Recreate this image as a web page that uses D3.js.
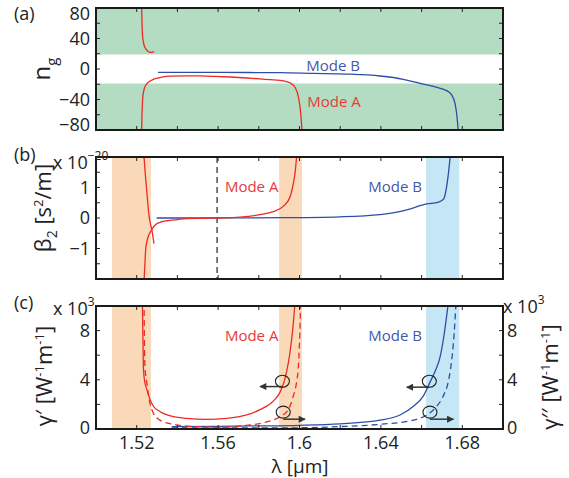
<!DOCTYPE html>
<html><head><meta charset="utf-8">
<script src="https://cdn.jsdelivr.net/npm/d3@7"></script>
<style>
body{margin:0;background:#fff;}
svg{display:block;font-family:"Open Sans",sans-serif;}
</style></head>
<body><svg id="c" width="569" height="478"></svg>
<script>
// ---------- data ----------
const xDomain = [1.50, 1.70];
const xTicksMajor = [1.52, 1.56, 1.60, 1.64, 1.68];
const xTickLabels = ["1.52", "1.56", "1.6", "1.64", "1.68"];

// panel (a): group index n_g
const ngBand = 19;
const ngTicks = [80, 40, 0, -40, -80];
const aRedUpLam = [1.5224, 1.5226, 1.5228, 1.5232, 1.5236, 1.5242, 1.5249, 1.5257, 1.5265, 1.5275, 1.5286];
const aRedUpNg  = [84, 62, 47, 37, 31.5, 27.5, 24.9, 23, 21.9, 21.7, 22.7];
const aRedLoLam = [1.5224, 1.5226, 1.5229, 1.5233, 1.5237, 1.5245, 1.5257, 1.5275, 1.5298, 1.533, 1.5364, 1.545, 1.551, 1.558, 1.566, 1.574, 1.5806, 1.5855, 1.5904, 1.5935, 1.5953, 1.5978, 1.5994, 1.6006, 1.6013];
const aRedLoNg  = [-84, -60, -40.7, -31, -26, -21, -17.5, -14.5, -12.2, -10.2, -9.4, -9.0, -9.1, -9.6, -10.5, -11.8, -13, -14, -15, -16.5, -18, -24, -36, -58, -84];
const aBlueLam  = [1.5305, 1.545, 1.56, 1.575, 1.5904, 1.6068, 1.6232, 1.6396, 1.651, 1.6592, 1.6674, 1.6723, 1.6748, 1.6764, 1.6772, 1.6781];
const aBlueNg   = [-4.3, -4.4, -4.5, -4.6, -4.8, -5.7, -6.6, -9.2, -13.5, -18.8, -24, -28.4, -34, -45, -58, -84];

// panel (b): beta2 (x 1e-20 s^2/m)
const bTicks = [1, 0, -1];
const bDashLam = 1.5595;
const bRed1Lam = [1.5235, 1.5242, 1.5249, 1.5255, 1.5260, 1.5267, 1.5274, 1.5285];
const bRed1Val = [2.1, 1.45, 0.92, 0.45, 0.1, -0.17, -0.38, -0.84];
const bRed2Lam = [1.5236, 1.5240, 1.5244, 1.5250, 1.5257, 1.5266, 1.5274, 1.5285, 1.5298, 1.5320, 1.5347, 1.540, 1.5446, 1.552, 1.5595, 1.5708, 1.5806, 1.5871, 1.592, 1.5953, 1.5970, 1.5978, 1.5987];
const bRed2Val = [-2.1, -1.55, -1.04, -0.78, -0.6, -0.47, -0.38, -0.27, -0.19, -0.13, -0.09, -0.05, -0.02, -0.01, 0, 0.03, 0.11, 0.21, 0.38, 0.68, 1.14, 1.47, 2.1];
const bBlueLam = [1.5298, 1.55, 1.5904, 1.62, 1.6396, 1.6527, 1.6625, 1.6683, 1.6708, 1.6723, 1.6732, 1.6741];
const bBlueVal = [0, 0, 0.01, 0.04, 0.11, 0.27, 0.46, 0.52, 0.62, 1.03, 1.47, 2.05];

// panel (c): gamma' (solid) and gamma'' (dashed), x 1e3 W^-1 m^-1
const cTicks = [8, 4, 0];
const cRedSLam = [1.5228, 1.5230, 1.5232, 1.5233, 1.5238, 1.5249, 1.5265, 1.5282, 1.5314, 1.538, 1.5446, 1.5544, 1.5642, 1.574, 1.5806, 1.5871, 1.5904, 1.5924, 1.5937, 1.5953, 1.5968, 1.5979];
const cRedSVal = [10.5, 8, 6, 5, 4.0, 3.26, 2.42, 1.85, 1.42, 1.0, 0.86, 0.78, 0.86, 1.14, 1.57, 2.27, 2.98, 3.83, 4.68, 6.2, 8.3, 10.5];
const cRedDLam = [1.5236, 1.5238, 1.5241, 1.5249, 1.5265, 1.5282, 1.5314, 1.538, 1.5446, 1.561, 1.574, 1.5839, 1.5904, 1.5945, 1.597, 1.5986, 1.5994, 1.6000, 1.6006];
const cRedDVal = [10.5, 7, 4.96, 3.83, 2.1, 1.29, 0.72, 0.38, 0.24, 0.15, 0.3, 0.58, 1.0, 1.57, 2.7, 3.83, 4.96, 7, 10.5];
const cBlueSLam = [1.5372, 1.56, 1.58, 1.60, 1.62, 1.6396, 1.6494, 1.656, 1.6609, 1.6642, 1.6666, 1.669, 1.671, 1.6733];
const cBlueSVal = [0.2, 0.22, 0.25, 0.3, 0.42, 0.72, 1.14, 1.85, 2.7, 3.83, 4.68, 5.8, 7.6, 10.5];
const cBlueDLam = [1.5372, 1.58, 1.60, 1.62, 1.6396, 1.6559, 1.6625, 1.6674, 1.6707, 1.6731, 1.6743, 1.6752, 1.6760, 1.6770];
const cBlueDVal = [0.08, 0.09, 0.1, 0.2, 0.38, 0.72, 1.14, 1.85, 2.7, 3.83, 4.96, 6.2, 7.8, 10.5];

// shaded wavelength windows
const orangeBands = [[1.5079, 1.527], [1.590, 1.6012]];
const blueBands = [[1.6622, 1.6785]];

// circle/arrow markers: [lambda, value, arrow-end lambda, arrow value]
const markers = [
  [1.5916, 3.88, 1.5806, 3.45],
  [1.5920, 1.37, 1.6027, 0.80],
  [1.6638, 3.88, 1.6527, 3.40],
  [1.6641, 1.37, 1.6756, 0.80]
];

// ---------- drawing ----------
const svg = d3.select("#c");
const RED = "#ec2a24", BLUE = "#2c4ea6", RED_T = "#e8393a", BLUE_T = "#4658a8";
const GREEN = "#b4dcc3", ORANGE = "#fad9b9", LBLUE = "#c4e6f5";
const L = 96, R = 503;
const x = d3.scaleLinear().domain(xDomain).range([L, R]);

const panels = [
  {id: "a", top: 8, bot: 130, dom: [-80, 80], minor: 20},
  {id: "b", top: 157, bot: 279, dom: [-2, 2], minor: 0.5},
  {id: "c", top: 306, bot: 429, dom: [0, 10], minor: 2}
];
panels.forEach(p => p.y = d3.scaleLinear().domain(p.dom).range([p.bot, p.top]));
const [pa, pb, pc] = panels;

const defs = svg.append("defs");
panels.forEach(p => {
  defs.append("clipPath").attr("id", "clip" + p.id).append("rect")
    .attr("x", L).attr("y", p.top).attr("width", R - L).attr("height", p.bot - p.top);
});
defs.append("marker").attr("id", "ah").attr("viewBox", "0 0 10 10").attr("refX", 9).attr("refY", 5)
  .attr("markerWidth", 9).attr("markerHeight", 7).attr("markerUnits", "userSpaceOnUse").attr("orient", "auto")
  .append("path").attr("d", "M0,0 L10,5 L0,10 z").attr("fill", "#333");

function mkLine(p) {
  return d3.line().x(d => x(d[0])).y(d => p.y(d[1])).curve(d3.curveMonotoneX);
}
function zip(a, b) { return a.map((v, i) => [v, b[i]]); }

function drawCurve(g, p, lam, val, color, dashed) {
  g.append("path").datum(zip(lam, val)).attr("d", mkLine(p))
    .attr("fill", "none").attr("stroke", color).attr("stroke-width", 1.3)
    .attr("stroke-dasharray", dashed ? "6,4" : null);
}

// --- panel a
const ga = svg.append("g").attr("clip-path", "url(#clipa)");
ga.append("rect").attr("x", L).attr("width", R - L).attr("y", pa.y(80)).attr("height", pa.y(ngBand) - pa.y(80)).attr("fill", GREEN);
ga.append("rect").attr("x", L).attr("width", R - L).attr("y", pa.y(-ngBand)).attr("height", pa.y(-80) - pa.y(-ngBand)).attr("fill", GREEN);
drawCurve(ga, pa, aRedUpLam, aRedUpNg, RED);
drawCurve(ga, pa, aRedLoLam, aRedLoNg, RED);
drawCurve(ga, pa, aBlueLam, aBlueNg, BLUE);

// --- panel b
const gb = svg.append("g").attr("clip-path", "url(#clipb)");
orangeBands.forEach(b => gb.append("rect").attr("x", x(b[0])).attr("width", x(b[1]) - x(b[0])).attr("y", pb.top).attr("height", pb.bot - pb.top).attr("fill", ORANGE));
blueBands.forEach(b => gb.append("rect").attr("x", x(b[0])).attr("width", x(b[1]) - x(b[0])).attr("y", pb.top).attr("height", pb.bot - pb.top).attr("fill", LBLUE));
gb.append("line").attr("x1", x(bDashLam)).attr("x2", x(bDashLam)).attr("y1", pb.top).attr("y2", pb.bot)
  .attr("stroke", "#222").attr("stroke-width", 1.2).attr("stroke-dasharray", "6,4");
drawCurve(gb, pb, bBlueLam, bBlueVal, BLUE);
drawCurve(gb, pb, bRed1Lam, bRed1Val, RED);
drawCurve(gb, pb, bRed2Lam, bRed2Val, RED);

// --- panel c
const gc = svg.append("g").attr("clip-path", "url(#clipc)");
orangeBands.forEach(b => gc.append("rect").attr("x", x(b[0])).attr("width", x(b[1]) - x(b[0])).attr("y", pc.top).attr("height", pc.bot - pc.top).attr("fill", ORANGE));
blueBands.forEach(b => gc.append("rect").attr("x", x(b[0])).attr("width", x(b[1]) - x(b[0])).attr("y", pc.top).attr("height", pc.bot - pc.top).attr("fill", LBLUE));
drawCurve(gc, pc, cBlueSLam, cBlueSVal, BLUE);
drawCurve(gc, pc, cBlueDLam, cBlueDVal, BLUE, true);
drawCurve(gc, pc, cRedSLam, cRedSVal, RED);
drawCurve(gc, pc, cRedDLam, cRedDVal, RED, true);
markers.forEach(m => {
  gc.append("ellipse").attr("cx", x(m[0])).attr("cy", pc.y(m[1])).attr("rx", 7).attr("ry", 6)
    .attr("fill", "none").attr("stroke", "#222").attr("stroke-width", 1.1);
  gc.append("line").attr("x1", x(m[0])).attr("x2", x(m[2])).attr("y1", pc.y(m[3])).attr("y2", pc.y(m[3]))
    .attr("stroke", "#333").attr("stroke-width", 1.5).attr("marker-end", "url(#ah)");
});

// --- axes, ticks, boxes
const tl = 4;
const xMinor = d3.range(1.50, 1.7001, 0.02).slice(1, -1);
panels.forEach(p => {
  const g = svg.append("g");
  xMinor.forEach(t => {
    g.append("line").attr("x1", x(t)).attr("x2", x(t)).attr("y1", p.bot).attr("y2", p.bot - tl).attr("stroke", "#222");
    g.append("line").attr("x1", x(t)).attr("x2", x(t)).attr("y1", p.top).attr("y2", p.top + tl).attr("stroke", "#222");
  });
  const yt = d3.range(p.dom[0], p.dom[1] + 1e-9, p.minor).slice(1, -1);
  yt.forEach(t => {
    g.append("line").attr("x1", L).attr("x2", L + tl).attr("y1", p.y(t)).attr("y2", p.y(t)).attr("stroke", "#222");
    g.append("line").attr("x1", R).attr("x2", R - tl).attr("y1", p.y(t)).attr("y2", p.y(t)).attr("stroke", "#222");
  });
  g.append("rect").attr("x", L).attr("y", p.top).attr("width", R - L).attr("height", p.bot - p.top)
    .attr("fill", "none").attr("stroke", "#1a1a1a").attr("stroke-width", 2);
});

const fmt = v => (v < 0 ? "\u2212" + Math.abs(v) : String(v));
function yLabels(p, ticks, xpos, anchor, clamp) {
  ticks.forEach(t => {
    let yy = p.y(t);
    if (clamp && t === p.dom[1]) yy += 5.5;
    if (clamp && t === p.dom[0]) yy -= 5.5;
    if (!clamp && t === p.dom[0]) yy -= 1.5;
    svg.append("text").attr("x", xpos).attr("y", yy).attr("dy", "0.36em")
      .attr("text-anchor", anchor).attr("font-size", 18).attr("fill", "#222").text(fmt(t));
  });
}
yLabels(pa, ngTicks, 90, "end", true);
yLabels(pb, bTicks, 90, "end", false);
yLabels(pc, cTicks, 90, "end", false);
yLabels(pc, cTicks, 507, "start", false);

xTicksMajor.forEach((t, i) => svg.append("text").attr("x", x(t)).attr("y", 449).attr("text-anchor", "middle")
  .attr("font-size", 18).attr("fill", "#222").text(xTickLabels[i]));

// x label
svg.append("text").attr("x", 300).attr("y", 473).attr("text-anchor", "middle").attr("font-size", 19).attr("fill", "#222")
  .text("\u03bb [\u03bcm]");

// panel letters
[["(a)", 14, 20], ["(b)", 14, 161], ["(c)", 14, 309]].forEach(d =>
  svg.append("text").attr("x", d[1]).attr("y", d[2]).attr("font-size", 18).attr("fill", "#222").text(d[0]));

// exponent notes
function expo(xp, yp, ex) {
  const t = svg.append("text").attr("x", xp).attr("y", yp).attr("font-size", 18).attr("fill", "#222");
  t.append("tspan").text("x 10");
  t.append("tspan").attr("font-size", 12).attr("dy", -9).text(ex);
}
expo(53, 169, "\u221220");
expo(53, 315, "3");
expo(503, 313, "3");

// n_g
(function(){
  const t = svg.append("text").attr("transform", `translate(50,69) rotate(-90)`).attr("text-anchor", "middle").attr("font-size", 24).attr("fill", "#222");
  t.append("tspan").text("n");
  t.append("tspan").attr("font-size", 15).attr("dy", 7).text("g");
})();
// beta_2
(function(){
  const t = svg.append("text").attr("transform", `translate(51,208) rotate(-90)`).attr("text-anchor", "middle").attr("font-size", 22).attr("fill", "#222");
  t.append("tspan").text("\u03b2");
  t.append("tspan").attr("font-size", 14).attr("dy", 6).text("2");
  t.append("tspan").attr("dy", -6).text(" [s");
  t.append("tspan").attr("font-size", 13).attr("dy", -8).text("2");
  t.append("tspan").attr("dy", 8).text("/m]");
})();
function gammaLabel(cx, cy, primes) {
  const t = svg.append("text").attr("transform", `translate(${cx},${cy}) rotate(-90)`).attr("text-anchor", "middle").attr("font-size", 22).attr("fill", "#222");
  t.append("tspan").text("\u03b3" + primes + " [W");
  t.append("tspan").attr("font-size", 13).attr("dy", -8).text("-1");
  t.append("tspan").attr("dy", 8).text("m");
  t.append("tspan").attr("font-size", 13).attr("dy", -8).text("-1");
  t.append("tspan").attr("dy", 8).text("]");
}
gammaLabel(52, 376, "\u2032");
gammaLabel(558, 377, "\u2032\u2032");

// mode labels
function modeText(lam, yy, txt, col) {
  svg.append("text").attr("x", x(lam)).attr("y", yy).attr("dy", "0.36em").attr("text-anchor", "middle")
    .attr("font-size", 15).attr("fill", col).text(txt);
}
modeText(1.6165, 66, "Mode B", BLUE_T);
modeText(1.6170, 102, "Mode A", RED_T);
modeText(1.5765, 187, "Mode A", RED_T);
modeText(1.6470, 187, "Mode B", BLUE_T);
modeText(1.5765, 336, "Mode A", RED_T);
modeText(1.6470, 336, "Mode B", BLUE_T);
</script></body></html>
